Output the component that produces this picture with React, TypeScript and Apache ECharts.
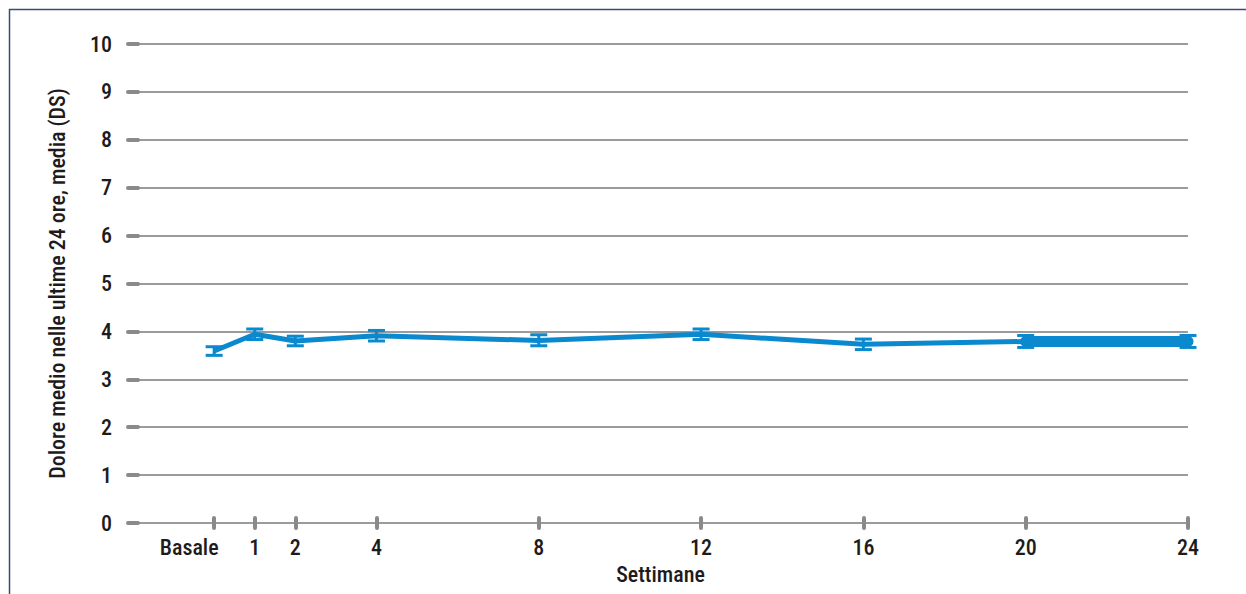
import React, { useEffect, useRef } from "react";
import * as echarts from "echarts";

const weeks = [0, 1, 2, 4, 8, 12, 16, 20, 24];
const weekLabels = ["Basale", "1", "2", "4", "8", "12", "16", "20", "24"];
const means = [3.59, 3.94, 3.8, 3.91, 3.81, 3.94, 3.73, 3.79, 3.79];
const lower = [3.5, 3.83, 3.7, 3.8, 3.7, 3.83, 3.62, 3.665, 3.665];
const upper = [3.68, 4.05, 3.9, 4.02, 3.93, 4.05, 3.84, 3.915, 3.915];
const yTicks = [0, 1, 2, 3, 4, 5, 6, 7, 8, 9, 10];

const BLUE = "#0a89cf";
const FONT = "'Liberation Sans Narrow', 'Roboto Condensed', 'DejaVu Sans Condensed', sans-serif";
const TEXT = "#1e1b1c";
const TICK = { color: "#8a8a8a", width: 4, cap: "round" as const };

export default function App() {
  const ref = useRef<HTMLDivElement>(null);
  useEffect(() => {
    if (!ref.current) return;
    const chart = echarts.init(ref.current, undefined, { renderer: "svg" });
    const lineData = weeks.map((w, i) => [w, means[i]]);
    const errData = weeks.map((w, i) => [w, lower[i], upper[i]]);
    const lastSeg = lineData.slice(-2);
    const labelMap: Record<number, string> = {};
    weeks.forEach((w, i) => (labelMap[w] = weekLabels[i]));

    chart.setOption({
      animation: false,
      backgroundColor: "#ffffff",
      textStyle: { fontFamily: FONT },
      graphic: [
        { type: "line", shape: { x1: 9, y1: 9.5, x2: 1246, y2: 9.5 }, style: { stroke: "#3b4d6e", lineWidth: 1.5 } },
        { type: "line", shape: { x1: 9.5, y1: 9, x2: 9.5, y2: 594 }, style: { stroke: "#3b4d6e", lineWidth: 1.5 } },
      ],
      grid: { left: 133, right: 58, top: 44, bottom: 71, containLabel: false },
      xAxis: [
        {
          type: "value",
          min: -2,
          max: 24,
          name: "Settimane",
          nameLocation: "middle",
          nameGap: 40,
          nameTextStyle: { fontSize: 22, color: TEXT, fontFamily: FONT, fontWeight: 500 },
          axisLine: { show: false, onZero: false },
          splitLine: { show: false },
          axisTick: { show: true, length: 5, inside: false, customValues: weeks, lineStyle: TICK },
          axisLabel: {
            show: true,
            margin: 13,
            fontSize: 22,
            fontWeight: 500,
            color: TEXT,
            fontFamily: FONT,
            customValues: weeks,
            formatter: (v: number) => (v === 0 ? "{b|" + labelMap[v] + "}" : labelMap[v] ?? ""),
            rich: {
              b: { fontSize: 22, fontWeight: 500, color: TEXT, fontFamily: FONT, padding: [0, 50, 0, 0] },
            },
          },
        },
        {
          type: "value",
          min: -2,
          max: 24,
          position: "bottom",
          axisLine: { show: false, onZero: false },
          splitLine: { show: false },
          axisTick: { show: true, length: 5, inside: true, customValues: weeks, lineStyle: TICK },
          axisLabel: { show: false },
        },
      ],
      yAxis: [
        {
          type: "value",
          min: 0,
          max: 10,
          interval: 1,
          name: "Dolore medio nelle ultime 24 ore, media (DS)",
          nameLocation: "middle",
          nameGap: 65,
          nameTextStyle: { fontSize: 22, color: TEXT, fontFamily: FONT, fontWeight: 500 },
          axisLine: { show: false, onZero: false },
          splitLine: { show: true, lineStyle: { color: "#7a7a7a", width: 1.5 } },
          axisTick: { show: true, length: 5, inside: false, lineStyle: TICK },
          axisLabel: { margin: 21, fontSize: 22, fontWeight: 500, color: TEXT, fontFamily: FONT, customValues: yTicks },
        },
        {
          type: "value",
          min: 0,
          max: 10,
          interval: 1,
          position: "left",
          axisLine: { show: false, onZero: false },
          splitLine: { show: false },
          axisTick: { show: true, length: 5, inside: true, lineStyle: TICK },
          axisLabel: { show: false },
        },
      ],
      series: [
        {
          type: "line",
          data: lineData,
          symbol: "none",
          lineStyle: { color: BLUE, width: 5 },
          z: 3,
        },
        {
          type: "line",
          data: lastSeg,
          symbol: "none",
          lineStyle: { color: BLUE, width: 11, cap: "round" },
          z: 3,
        },
        {
          type: "custom",
          data: errData,
          encode: { x: 0, y: [1, 2] },
          z: 4,
          renderItem: (params: any, api: any) => {
            const x = api.value(0);
            const lo = api.coord([x, api.value(1)]);
            const hi = api.coord([x, api.value(2)]);
            const hw = 8.5;
            const st = { stroke: BLUE, lineWidth: 3 };
            return {
              type: "group",
              children: [
                { type: "line", shape: { x1: hi[0], y1: hi[1], x2: lo[0], y2: lo[1] }, style: st },
                { type: "line", shape: { x1: hi[0] - hw, y1: hi[1], x2: hi[0] + hw, y2: hi[1] }, style: st },
                { type: "line", shape: { x1: lo[0] - hw, y1: lo[1], x2: lo[0] + hw, y2: lo[1] }, style: st },
              ],
            };
          },
        },
      ],
    });
    return () => chart.dispose();
  }, []);
  return <div ref={ref} style={{ position: "absolute", left: 0, top: 0, width: 1246, height: 594 }} />;
}
